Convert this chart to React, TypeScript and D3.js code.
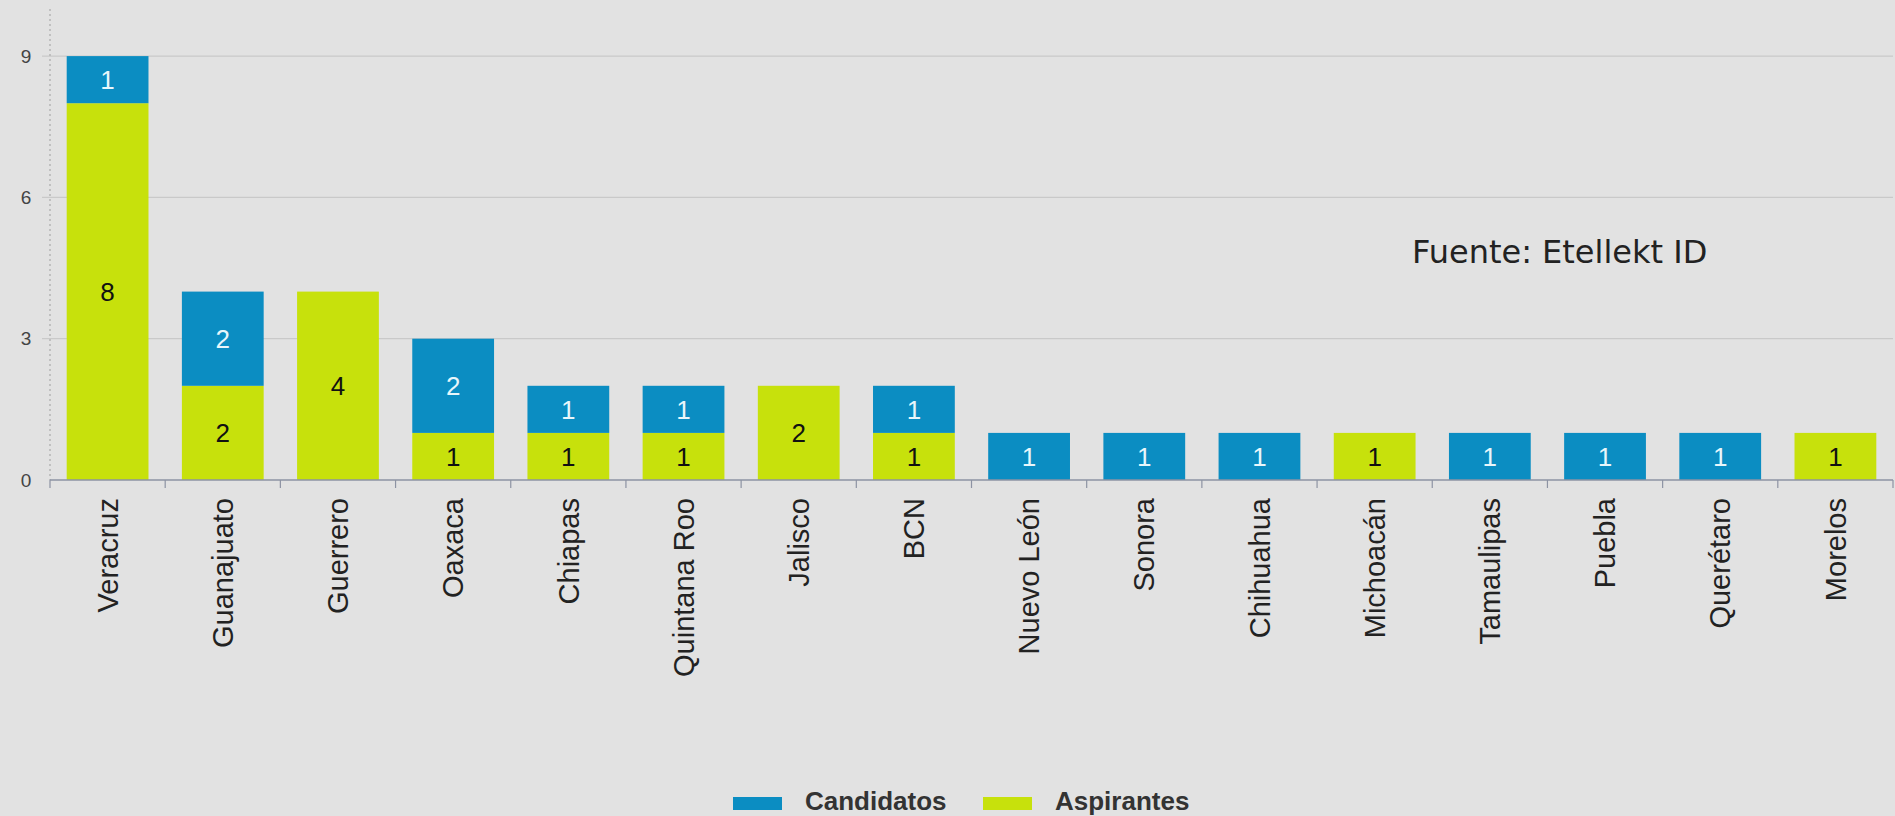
import React, { useEffect } from "react";
import * as d3 from "d3";

const categories = ["Veracruz", "Guanajuato", "Guerrero", "Oaxaca", "Chiapas", "Quintana Roo", "Jalisco", "BCN", "Nuevo León", "Sonora", "Chihuahua", "Michoacán", "Tamaulipas", "Puebla", "Querétaro", "Morelos"];
const aspirantes = [8, 2, 4, 1, 1, 1, 2, 1, 0, 0, 0, 1, 0, 0, 0, 1];
const candidatos = [1, 2, 0, 2, 1, 1, 0, 1, 1, 1, 1, 0, 1, 1, 1, 0];
const yTicks = [0, 3, 6, 9];
const seriesNames = ["Candidatos", "Aspirantes"];
const sourceNote = "Fuente: Etellekt ID";

const W = 1895;
const H = 816;
const BG = "#e2e2e2";
const BLUE = "#0b8dc2";
const GREEN = "#c7e10c";

export default function App() {
  useEffect(() => {
    document.body.style.margin = "0";
    document.body.style.background = BG;
  }, []);

  const x = d3.scaleBand<string>().domain(categories).range([50, 1893]).paddingInner(0.29).paddingOuter(0.145);
  const y = d3.scaleLinear().domain([0, 10]).range([480, 9]);
  const step = x.step();
  const bw = x.bandwidth();

  return (
    <svg width={W} height={H} style={{ display: "block" }}>
      <rect x={0} y={0} width={W} height={H} fill={BG} />
      {/* grid */}
      {yTicks.filter((t) => t > 0).map((t) => (
        <line key={"g" + t} x1={42} x2={1893} y1={y(t)} y2={y(t)} stroke="#c9c9c9" strokeWidth={1.2} />
      ))}
      {/* y axis dotted */}
      <line x1={50} x2={50} y1={y(10)} y2={y(0)} stroke="#b5b5b5" strokeWidth={1.5} strokeDasharray="2,3" />
      {yTicks.map((t) => (
        <text key={"yt" + t} x={26} y={y(t)} dy="0.35em" textAnchor="middle" fontFamily="Liberation Sans, Arial" fontSize={19} fill="#444">
          {t}
        </text>
      ))}
      {/* bars */}
      {categories.map((c, i) => {
        const x0 = x(c)!;
        const a = aspirantes[i];
        const b = candidatos[i];
        return (
          <g key={c}>
            {a > 0 && <rect x={x0} y={y(a)} width={bw} height={y(0) - y(a)} fill={GREEN} />}
            {b > 0 && <rect x={x0} y={y(a + b)} width={bw} height={y(a) - y(a + b)} fill={BLUE} />}
            {a > 0 && (
              <text x={x0 + bw / 2} y={(y(0) + y(a)) / 2} dy="0.36em" textAnchor="middle" fontFamily="Liberation Sans Narrow, Liberation Sans, Arial" fontSize={26} fill="#111">
                {a}
              </text>
            )}
            {b > 0 && (
              <text x={x0 + bw / 2} y={(y(a) + y(a + b)) / 2} dy="0.36em" textAnchor="middle" fontFamily="Liberation Sans Narrow, Liberation Sans, Arial" fontSize={26} fill="#e8f6fb">
                {b}
              </text>
            )}
          </g>
        );
      })}
      {/* x axis */}
      <line x1={50} x2={1893} y1={y(0)} y2={y(0)} stroke="#8d93a3" strokeWidth={1.5} />
      {d3.range(categories.length + 1).map((k) => (
        <line key={"xt" + k} x1={50 + k * step} x2={50 + k * step} y1={y(0)} y2={y(0) + 8} stroke="#8d93a3" strokeWidth={1.2} />
      ))}
      {categories.map((c) => {
        const cx = x(c)! + bw / 2;
        return (
          <text key={"l" + c} transform={`translate(${cx},498) rotate(-90)`} textAnchor="end" dy="0.35em" fontFamily="Liberation Sans, Arial" fontSize={29} fill="#222">
            {c}
          </text>
        );
      })}
      {/* source note */}
      <text x={1412} y={263} fontFamily="DejaVu Sans, Verdana" fontSize={32} fill="#222">
        {sourceNote}
      </text>
      {/* legend */}
      <g>
        <rect x={733} y={797} width={49} height={13} fill={BLUE} />
        <text x={805} y={810} fontFamily="Liberation Sans, Arial" fontWeight={700} fontSize={26} fill="#333">
          {seriesNames[0]}
        </text>
        <rect x={983} y={797} width={49} height={13} fill={GREEN} />
        <text x={1055} y={810} fontFamily="Liberation Sans, Arial" fontWeight={700} fontSize={26} fill="#333">
          {seriesNames[1]}
        </text>
      </g>
    </svg>
  );
}
